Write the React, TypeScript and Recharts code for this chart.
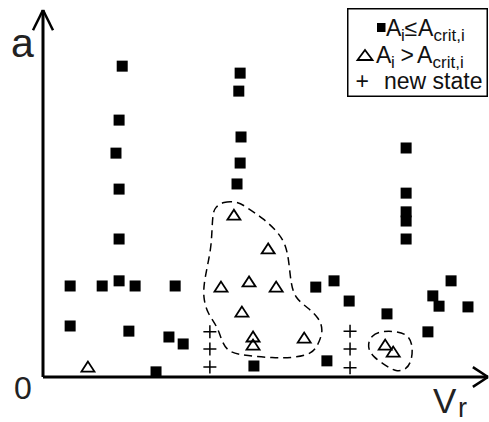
import {
  ComposedChart,
  Customized,
  Legend,
  Line,
  ReferenceLine,
  Scatter,
  XAxis,
  YAxis,
} from "recharts";

const FONT = "Arial, 'Liberation Sans', sans-serif";

// states with A_i <= A_crit,i (filled squares)
const stableStates = [
  { x: 1.78, y: 8.47 }, { x: 1.71, y: 7.0 }, { x: 1.64, y: 6.1 }, { x: 1.71, y: 5.12 },
  { x: 1.71, y: 3.76 }, { x: 1.71, y: 2.62 }, { x: 0.61, y: 2.48 }, { x: 1.33, y: 2.48 },
  { x: 2.07, y: 2.48 }, { x: 2.97, y: 2.48 }, { x: 0.61, y: 1.39 }, { x: 1.93, y: 1.25 },
  { x: 2.83, y: 1.09 }, { x: 3.15, y: 0.9 }, { x: 2.54, y: 0.14 },
  { x: 4.43, y: 8.28 }, { x: 4.4, y: 7.79 }, { x: 4.45, y: 6.54 }, { x: 4.43, y: 5.83 },
  { x: 4.36, y: 5.26 }, { x: 4.74, y: 0.3 },
  { x: 6.13, y: 2.45 }, { x: 6.54, y: 2.62 }, { x: 6.88, y: 2.07 }, { x: 6.38, y: 0.44 },
  { x: 7.73, y: 1.72 },
  { x: 8.16, y: 6.24 }, { x: 8.16, y: 5.01 }, { x: 8.16, y: 4.5 }, { x: 8.16, y: 4.25 },
  { x: 8.16, y: 3.76 },
  { x: 9.17, y: 2.62 }, { x: 8.76, y: 2.21 }, { x: 8.9, y: 1.93 }, { x: 9.55, y: 1.91 },
  { x: 8.65, y: 1.23 },
];

// states with A_i > A_crit,i (open triangles)
const criticalStates = [
  { x: 1.01, y: 0.27 }, { x: 4.29, y: 4.41 }, { x: 5.06, y: 3.49 }, { x: 4.0, y: 2.45 },
  { x: 4.63, y: 2.59 }, { x: 5.24, y: 2.45 }, { x: 4.47, y: 1.77 }, { x: 4.72, y: 1.09 },
  { x: 4.72, y: 0.87 }, { x: 5.87, y: 1.06 }, { x: 7.69, y: 0.87 }, { x: 7.87, y: 0.68 },
];

// new states (+)
const newStates = [
  { x: 3.75, y: 1.23 }, { x: 3.75, y: 0.76 }, { x: 3.75, y: 0.27 },
  { x: 6.9, y: 1.25 }, { x: 6.9, y: 0.76 }, { x: 6.9, y: 0.25 },
];

// dashed outlines around the critical clusters
const bigRegion = [
  { x: 3.87, y: 4.62 }, { x: 4.04, y: 4.78 }, { x: 4.38, y: 4.78 }, { x: 4.58, y: 4.62 },
  { x: 4.94, y: 4.33 }, { x: 5.28, y: 3.95 }, { x: 5.46, y: 3.6 }, { x: 5.53, y: 3.11 },
  { x: 5.57, y: 2.56 }, { x: 5.66, y: 2.15 }, { x: 5.96, y: 1.88 }, { x: 6.2, y: 1.61 },
  { x: 6.3, y: 1.28 }, { x: 6.2, y: 0.93 }, { x: 6.06, y: 0.63 }, { x: 5.62, y: 0.52 },
  { x: 5.17, y: 0.52 }, { x: 4.58, y: 0.58 }, { x: 4.18, y: 0.66 }, { x: 4.02, y: 0.95 },
  { x: 3.93, y: 1.36 }, { x: 3.69, y: 1.74 }, { x: 3.6, y: 2.18 }, { x: 3.62, y: 2.56 },
  { x: 3.69, y: 3.0 }, { x: 3.78, y: 3.54 }, { x: 3.8, y: 4.09 }, { x: 3.82, y: 4.47 },
];

const smallRegion = [
  { x: 7.28, y: 0.82 }, { x: 7.37, y: 1.14 }, { x: 7.62, y: 1.25 }, { x: 7.91, y: 1.25 },
  { x: 8.2, y: 1.16 }, { x: 8.31, y: 0.87 }, { x: 8.29, y: 0.46 }, { x: 8.17, y: 0.2 },
  { x: 7.93, y: 0.14 }, { x: 7.71, y: 0.31 }, { x: 7.42, y: 0.54 },
];

const X_MAX = 10;
const Y_MAX = 10;

const SquareShape = (props: any) => (
  <rect x={props.cx - 5.5} y={props.cy - 5.5} width={11} height={11} fill="#000" />
);

const TriangleShape = (props: any) => {
  const { cx, cy } = props;
  return (
    <polygon
      points={`${cx},${cy - 5.5} ${cx - 6.5},${cy + 4.5} ${cx + 6.5},${cy + 4.5}`}
      fill="none"
      stroke="#000"
      strokeWidth={1.8}
    />
  );
};

const PlusShape = (props: any) => {
  const { cx, cy } = props;
  return (
    <path
      d={`M${cx - 6.5},${cy}H${cx + 6.5}M${cx},${cy - 6.5}V${cy + 6.5}`}
      stroke="#000"
      strokeWidth={1.5}
    />
  );
};

// legend drawn as svg so the baselines land where the reference has them
function LegendBox() {
  const sub = 17;
  return (
    <svg width={141} height={89} style={{ display: "block" }} fontFamily={FONT} fill="#111">
      <rect x={0.75} y={0.75} width={139.5} height={87.5} fill="#fff" stroke="#000" strokeWidth={1.5} />
      {/* row 1 */}
      <rect x={30} y={15} width={8.5} height={9} fill="#000" />
      <text y={28} fontSize={23}>
        <tspan x={39}>A</tspan>
        <tspan x={54} dy={5} fontSize={sub}>i</tspan>
        <tspan x={57.5} dy={-5}>≤</tspan>
        <tspan x={71}>A</tspan>
        <tspan x={86.5} dy={5} fontSize={sub}>crit,i</tspan>
      </text>
      {/* row 2 */}
      <polygon points="18,42 10.5,52 25.5,52" fill="none" stroke="#000" strokeWidth={1.8} />
      <text y={55} fontSize={23}>
        <tspan x={29}>A</tspan>
        <tspan x={44} dy={5} fontSize={sub}>i</tspan>
        <tspan x={53.5} dy={-5}>&gt;</tspan>
        <tspan x={70}>A</tspan>
        <tspan x={85.5} dy={5} fontSize={sub}>crit,i</tspan>
      </text>
      {/* row 3 */}
      <text y={81} fontSize={23}>
        <tspan x={8.5}>+</tspan>
        <tspan x={37}>new state</tspan>
      </text>
    </svg>
  );
}

function AxisLabels() {
  return (
    <g fontFamily={FONT} fill="#222">
      <text x={11} y={57} fontSize={41}>a</text>
      <text x={14} y={399} fontSize={32}>0</text>
      <text x={433} y={413} fontSize={35}>V</text>
      <text x={458} y={417} fontSize={27}>r</text>
    </g>
  );
}

export default function App() {
  return (
    <div style={{ position: "absolute", left: 0, top: 0, background: "#fff" }}>
      <ComposedChart
        width={489}
        height={422}
        margin={{ top: 10, right: 1, bottom: 45, left: 43 }}
      >
        <XAxis dataKey="x" type="number" domain={[0, X_MAX]} hide />
        <YAxis dataKey="y" type="number" domain={[0, Y_MAX]} hide />

        {/* axes with arrow heads */}
        <ReferenceLine segment={[{ x: 0, y: 0 }, { x: 0, y: Y_MAX }]} stroke="#000" strokeWidth={3} ifOverflow="visible" />
        <ReferenceLine segment={[{ x: 0, y: Y_MAX }, { x: -0.225, y: Y_MAX - 0.55 }]} stroke="#000" strokeWidth={2.5} ifOverflow="visible" />
        <ReferenceLine segment={[{ x: 0, y: Y_MAX }, { x: 0.225, y: Y_MAX - 0.55 }]} stroke="#000" strokeWidth={2.5} ifOverflow="visible" />
        <ReferenceLine segment={[{ x: 0, y: 0 }, { x: X_MAX, y: 0 }]} stroke="#000" strokeWidth={3} ifOverflow="visible" />
        <ReferenceLine segment={[{ x: X_MAX, y: 0 }, { x: X_MAX - 0.34, y: 0.27 }]} stroke="#000" strokeWidth={2.5} ifOverflow="visible" />
        <ReferenceLine segment={[{ x: X_MAX, y: 0 }, { x: X_MAX - 0.34, y: -0.27 }]} stroke="#000" strokeWidth={2.5} ifOverflow="visible" />

        <Line
          data={bigRegion}
          dataKey="y"
          type="basisClosed"
          stroke="#000"
          strokeWidth={1.5}
          strokeDasharray="8 5"
          dot={false}
          activeDot={false}
          isAnimationActive={false}
        />
        <Line
          data={smallRegion}
          dataKey="y"
          type="basisClosed"
          stroke="#000"
          strokeWidth={1.5}
          strokeDasharray="8 5"
          dot={false}
          activeDot={false}
          isAnimationActive={false}
        />

        <Scatter data={stableStates} dataKey="y" shape={SquareShape} isAnimationActive={false} />
        <Scatter data={criticalStates} dataKey="y" shape={TriangleShape} isAnimationActive={false} />
        <Scatter data={newStates} dataKey="y" shape={PlusShape} isAnimationActive={false} />

        <Customized component={AxisLabels} />
        <Legend
          layout="vertical"
          align="center"
          verticalAlign="middle"
          wrapperStyle={{ top: 8, left: 347, width: 141, height: 89 }}
          content={() => <LegendBox />}
        />
      </ComposedChart>
    </div>
  );
}
